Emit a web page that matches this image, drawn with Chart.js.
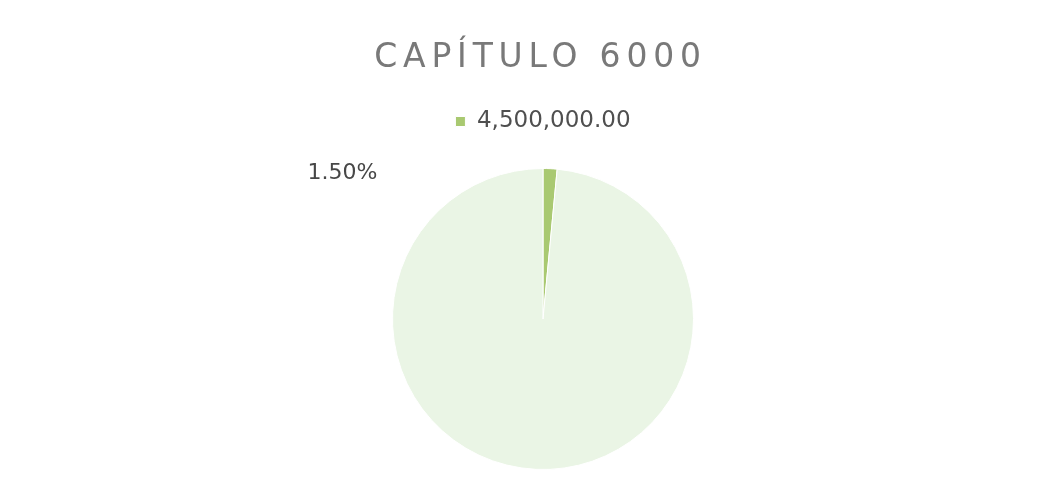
<!DOCTYPE html>
<html>
<head>
<meta charset="utf-8">
<script src="https://cdn.jsdelivr.net/npm/chart.js@4/dist/chart.umd.min.js"></script>
<style>
    html, body { margin: 0; padding: 0; background: #ffffff; }
    #wrap { position: relative; width: 1061px; height: 489px; }
    #title {
        position: absolute; left: 0; top: 35px; width: 1061px;
        text-align: center; padding-left: 20px; box-sizing: border-box;
        font-family: "DejaVu Sans", sans-serif; font-size: 33px;
        letter-spacing: 5.8px; color: #797979; line-height: 42px;
    }
    canvas { position: absolute; left: 0; top: 0; }
</style>
</head>
<body>
<div id="wrap">
    <canvas id="chart" width="1061" height="489"></canvas>
    <div id="title">CAPÍTULO 6000</div>
</div>
<script>
const sliceLabels = ['4,500,000.00', '295,500,000.00'];
const sliceValues = [4500000, 295500000];
const sliceColors = ['#a9c971', '#eaf5e5'];
const shownPercent = '1.50%';

// leaves some room between legend and pie
const legendGap = {
    id: 'legendGap',
    beforeInit(chart) {
        const legend = chart.legend;
        if (!legend) return;
        const fit = legend.fit;
        legend.fit = function () {
            fit.call(this);
            this.height += 25;
        };
    }
};

// draws the percentage label of the small slice to the left of the pie top
const percentLabel = {
    id: 'percentLabel',
    afterDatasetsDraw(chart) {
        const arc = chart.getDatasetMeta(0).data[0];
        if (!arc) return;
        const ctx = chart.ctx;
        ctx.save();
        ctx.font = '22px "DejaVu Sans", sans-serif';
        ctx.fillStyle = '#474747';
        ctx.textAlign = 'center';
        ctx.textBaseline = 'middle';
        ctx.fillText(shownPercent, arc.x - arc.outerRadius - 50, arc.y - arc.outerRadius + 5);
        ctx.restore();
    }
};

new Chart('chart', {
    type: 'pie',
    data: {
        labels: sliceLabels,
        datasets: [{
            data: sliceValues,
            backgroundColor: sliceColors,
            borderColor: '#ffffff',
            borderWidth: 1
        }]
    },
    options: {
        responsive: false,
        animation: false,
        layout: {
            padding: { top: 100, bottom: 19, left: 25, right: 0 }
        },
        plugins: {
            legend: {
                position: 'top',
                labels: {
                    filter: (item) => item.index === 0,
                    boxWidth: 10,
                    boxHeight: 10,
                    padding: 10,
                    color: '#4f4f4f',
                    font: { family: '"DejaVu Sans", sans-serif', size: 23 }
                }
            },
            tooltip: { enabled: false }
        }
    },
    plugins: [legendGap, percentLabel]
});
</script>
</body>
</html>
